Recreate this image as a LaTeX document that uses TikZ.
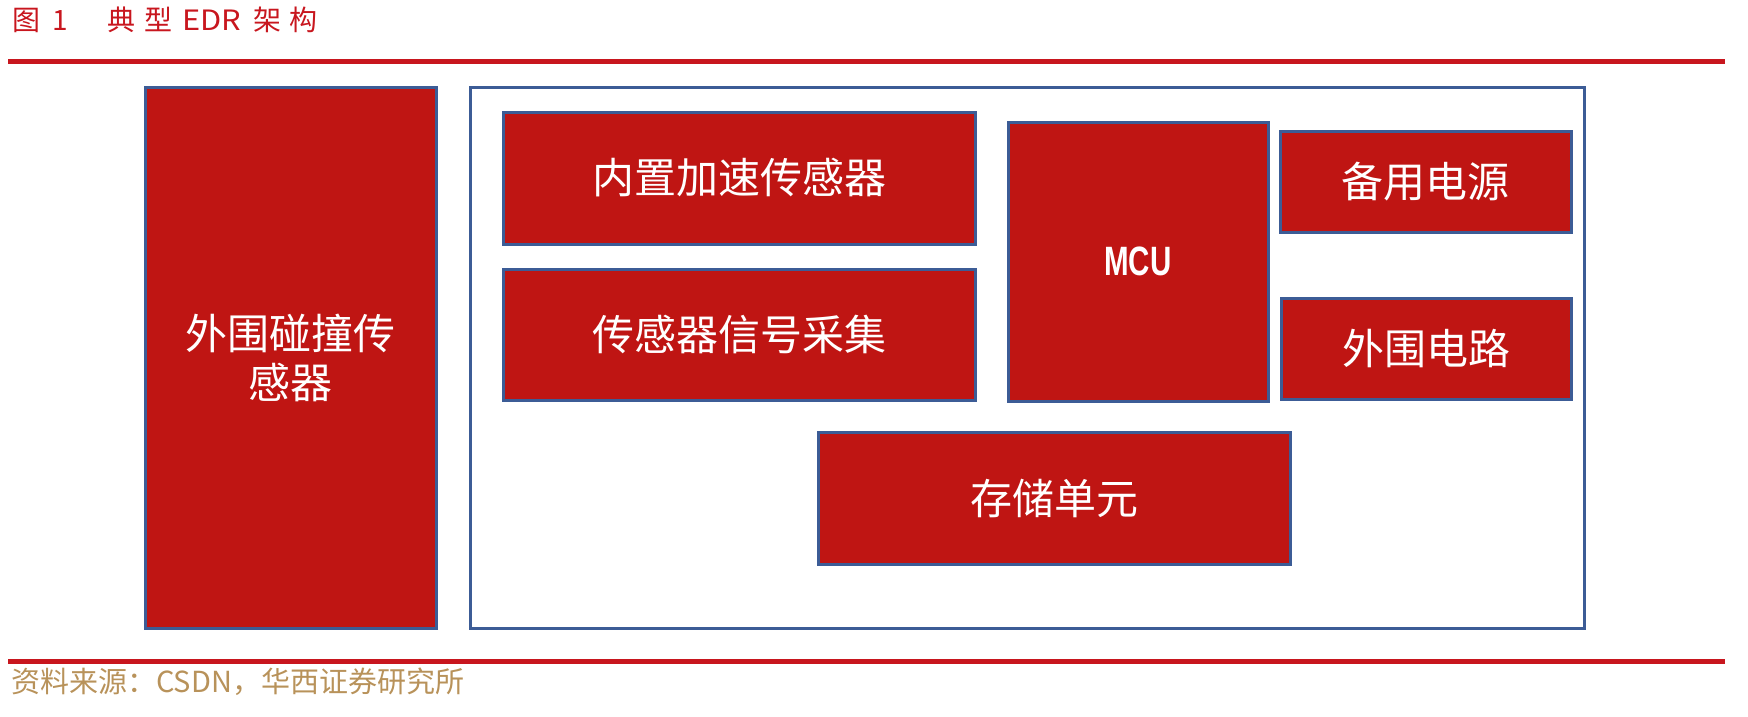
\documentclass[tikz,border=0pt]{standalone}
\usepackage{fontspec}
\setmainfont{Noto Sans CJK SC}
\newfontfamily\mcufont[FakeStretch=0.72]{Liberation Sans}
\definecolor{boxred}{RGB}{191,21,19}
\definecolor{boxblue}{RGB}{60,92,150}
\definecolor{titlered}{RGB}{200,22,30}
\definecolor{srcbrown}{RGB}{184,146,90}
\tikzset{
  redbox/.style={draw=boxblue, line width=3pt, fill=boxred, rectangle, inner sep=0pt, outer sep=0pt,
    text=white, align=center, font=\fontsize{42}{49}\selectfont},
  framebox/.style={draw=boxblue, line width=3pt, fill=white, rectangle, inner sep=0pt, outer sep=0pt},
  rulestyle/.style={draw=titlered, line width=5pt},
  titletext/.style={text=titlered, anchor=west, inner sep=0pt, font=\fontsize{28}{32}\selectfont},
  srctext/.style={text=srcbrown, anchor=west, inner sep=0pt, font=\fontsize{29}{32}\selectfont}
}
\begin{document}
\begin{tikzpicture}[x=1pt,y=-1pt]
\useasboundingbox (0,0) rectangle (1748,716);
% title
\node[titletext] (fig) at (12,20) {图\hspace{12pt}1};
\node[titletext] (title) at (107,20) {典\hspace{9pt}型\hspace{10pt}{\addfontfeature{FakeStretch=1.1}EDR}\hspace{12pt}架\hspace{8pt}构};
\coordinate (r1a) at (8,61.5);
\coordinate (r1b) at (1725,61.5);
\draw[rulestyle] (r1a) -- (r1b);
% frame
\node[framebox, minimum width=1114pt, minimum height=541pt] (frame) at (1027,357.5) {};
% boxes
\node[redbox, minimum width=291pt, minimum height=541pt] (ext) at (290.5,357.5) {外围碰撞传\\感器};
\node[redbox, minimum width=472pt, minimum height=132pt] (accel) at (739,178) {内置加速传感器};
\node[redbox, minimum width=472pt, minimum height=131pt] (sig) at (739,334.5) {传感器信号采集};
\node[redbox, minimum width=260pt, minimum height=279pt, font=\mcufont\bfseries\fontsize{41}{49}\selectfont] (mcu) at (1138,261.5) {MCU};
\node[redbox, minimum width=291pt, minimum height=101pt] (bak) at (1425.5,181.5) {备用电源};
\node[redbox, minimum width=290pt, minimum height=101pt] (per) at (1426,348.5) {外围电路};
\node[redbox, minimum width=472pt, minimum height=132pt] (mem) at (1054,498) {存储单元};
% footer
\coordinate (r2a) at (8,661.5);
\coordinate (r2b) at (1725,661.5);
\draw[rulestyle] (r2a) -- (r2b);
\node[srctext] (src) at (11,682) {资料来源：CSDN，华西证券研究所};
\end{tikzpicture}
\end{document}
